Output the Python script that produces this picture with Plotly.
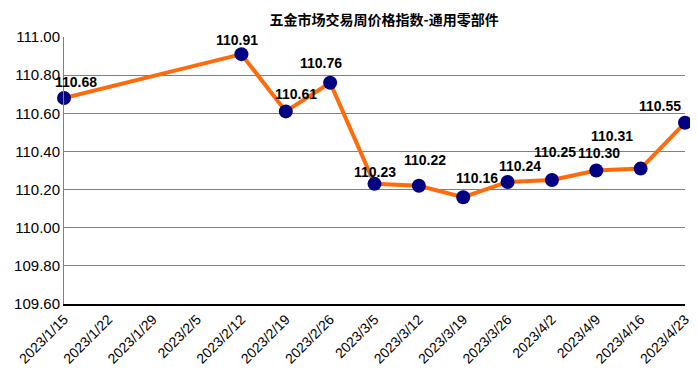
import plotly.graph_objects as go

dates = ["2023/1/15", "2023/1/22", "2023/1/29", "2023/2/5", "2023/2/12", "2023/2/19",
         "2023/2/26", "2023/3/5", "2023/3/12", "2023/3/19", "2023/3/26", "2023/4/2",
         "2023/4/9", "2023/4/16", "2023/4/23"]
values = [110.68, None, None, None, 110.91, 110.61, 110.76, 110.23, 110.22, 110.16,
          110.24, 110.25, 110.30, 110.31, 110.55]
y_ticks = [109.60, 109.80, 110.00, 110.20, 110.40, 110.60, 110.80, 111.00]
title = "五金市场交易周价格指数-通用零部件"

# label offsets (pixels) per point
xshifts = [12, 0, 0, 0, -4, 10, -9, 0, 6, 14, 12, 3, 3, -29, -25]
yshifts = [16, 0, 0, 0, 14, 17, 20, 12, 26, 19, 16, 28, 18, 33, 17]

fig = go.Figure()
fig.add_trace(go.Scatter(
    x=dates, y=values, mode="lines+markers", connectgaps=True,
    line=dict(color="#FF6A0A", width=4),
    marker=dict(color="#000080", size=14),
    cliponaxis=False, hoverinfo="x+y",
))

for d, v, xs, ys in zip(dates, values, xshifts, yshifts):
    if v is None:
        continue
    fig.add_annotation(x=d, y=v, text=f"<b>{v:.2f}</b>", showarrow=False,
                       xshift=xs, yshift=ys,
                       font=dict(family="Liberation Sans, Arial", size=14, color="#000000"))

# page body has an 8px default margin, so the figure is sized to fit the window
fig.update_layout(
    width=690, height=366,
    margin=dict(l=56, r=13, t=29, b=70, autoexpand=False),
    paper_bgcolor="white", plot_bgcolor="white",
    showlegend=False,
    title=dict(text=f"<b>{title}</b>", x=0.545, xanchor="center", y=0.968, yanchor="middle",
               font=dict(family="Noto Sans CJK SC", size=14, color="#000000")),
    font=dict(family="Liberation Sans, Arial", color="#000000"),
)
fig.update_xaxes(
    type="category", range=[0, len(dates) - 1], tickangle=-45, automargin=False,
    showgrid=False, showline=True, linecolor="#000000", linewidth=1.5,
    ticks="", tickfont=dict(size=14, color="#000000"),
)
fig.update_yaxes(
    range=[109.60, 111.00], tickvals=y_ticks, ticktext=[f"{t:.2f}" for t in y_ticks],
    automargin=False,
    showgrid=True, gridcolor="#808080", gridwidth=1,
    showline=True, linecolor="#808080", linewidth=1, zeroline=False,
    ticks="", tickfont=dict(size=15, color="#000000"),
)

fig.write_html("out.html")
